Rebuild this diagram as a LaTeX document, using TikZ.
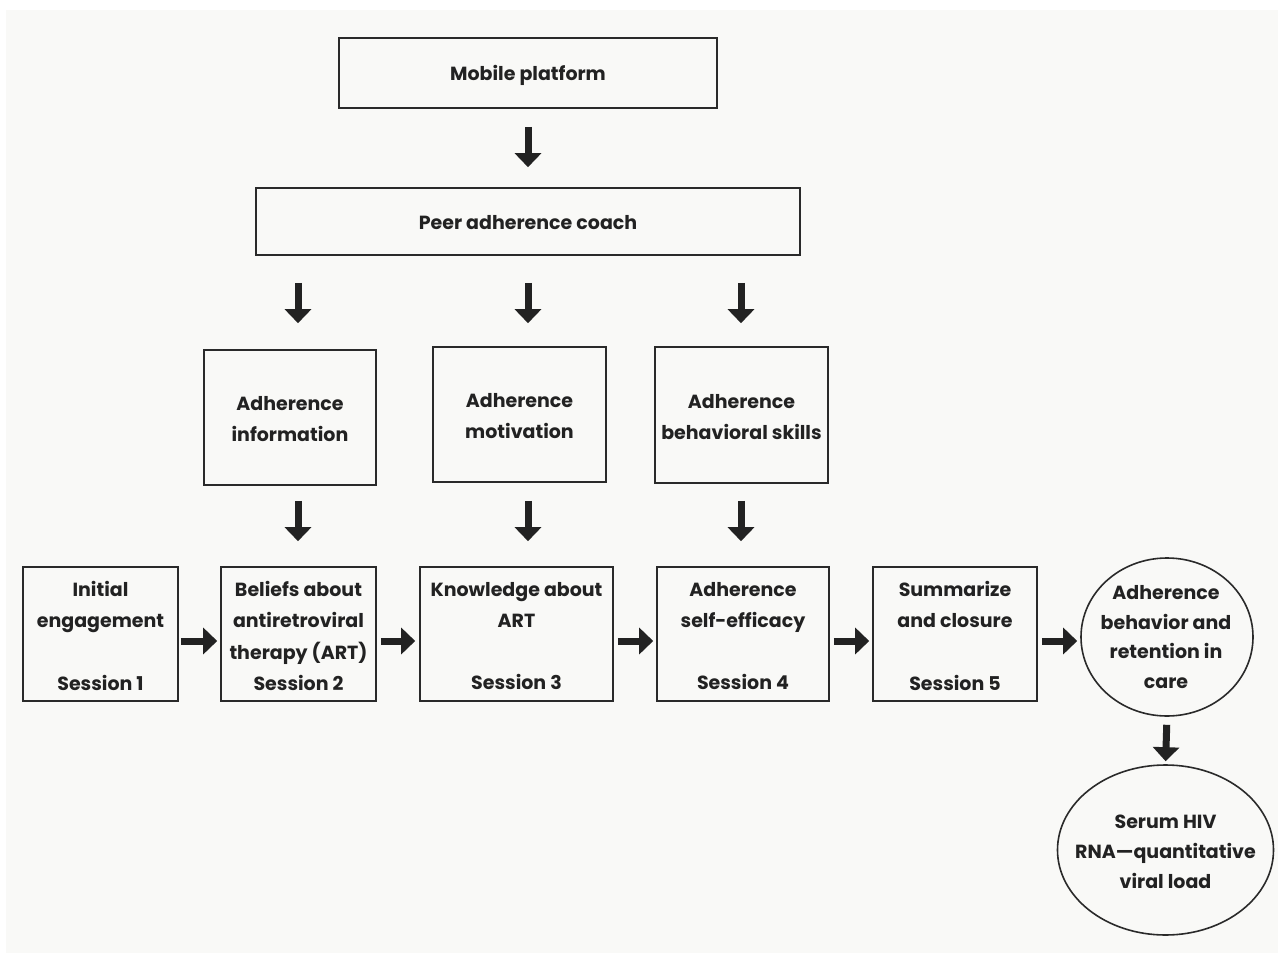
\documentclass[tikz,border=0pt]{standalone}
\usepackage{fontspec}
\setmainfont{Poppins}
\usetikzlibrary{arrows.meta,shapes.geometric}
\definecolor{bgc}{HTML}{F9F9F7}
\definecolor{linec}{HTML}{2A2A2A}
\definecolor{txt}{HTML}{222222}
\begin{document}
\begin{tikzpicture}[x=1pt,y=-1pt,
  box/.style={draw=linec, line width=1.6pt, inner sep=0pt, align=center, text=txt,
    font=\fontsize{19}{31.3}\selectfont\bfseries},
  ell/.style={ellipse, draw=linec, line width=1.6pt, inner sep=0pt},
  lbl/.style={inner sep=0pt, align=center, text=txt, font=\fontsize{19}{29.8}\selectfont\bfseries},
  arr/.style={line width=7pt, draw=txt, -{Triangle[width=26pt,length=14pt]}}
]
\useasboundingbox (0,0) rectangle (1278,953);
\fill[white] (0,0) rectangle (1278,953);
\fill[bgc] (6,10) rectangle (1278,953);

% top
\node[box, minimum width=378pt, minimum height=70pt] (mob) at (528,73) {};
\node[lbl] (mobt) at (528,75) {Mobile platform};
\node[box, minimum width=544pt, minimum height=67pt] (peer) at (528,221.5) {};
\node[lbl] (peert) at (528,223) {Peer adherence coach};

% middle
\node[box, minimum width=172pt, minimum height=135pt] (info) at (290,417.5) {};
\node[box, minimum width=173pt, minimum height=135pt] (moti) at (519.5,414.5) {};
\node[box, minimum width=173pt, minimum height=136pt] (skil) at (741.5,415) {};
\node[lbl, font=\fontsize{19}{31}\selectfont\bfseries] (infot) at (290,419.5) {Adherence\\information};
\node[lbl, font=\fontsize{19}{31}\selectfont\bfseries] (motit) at (519.5,416.5) {Adherence\\motivation};
\node[lbl, font=\fontsize{19}{31}\selectfont\bfseries] (skilt) at (741.5,417) {Adherence\\behavioral skills};

% bottom row
\node[box, minimum width=155pt, minimum height=134pt] (s1) at (100.5,634) {};
\node[box, minimum width=155pt, minimum height=134pt] (s2) at (298.5,634) {};
\node[box, minimum width=193pt, minimum height=134pt] (s3) at (516.5,634) {};
\node[box, minimum width=172pt, minimum height=134pt] (s4) at (743,634) {};
\node[box, minimum width=164pt, minimum height=134pt] (s5) at (955,634) {};
\begin{scope}[every node/.style={lbl, font=\fontsize{19}{31.3}\selectfont\bfseries}]
\node (s1t) at (100.5,636) {Initial\\engagement\\\mbox{}\\Session 1};
\node (s2t) at (298.5,636) {Beliefs about\\antiretroviral\\therapy (ART)\\Session 2};
\node (s3t) at (516.5,636) {Knowledge about\\ART\\\mbox{}\\Session 3};
\node (s4t) at (743,636) {Adherence\\self-efficacy\\\mbox{}\\Session 4};
\node (s5t) at (955,636) {Summarize\\and closure\\\mbox{}\\Session 5};
\end{scope}

\node[ell, minimum width=172pt, minimum height=158pt] (circ) at (1167,637) {};
\node[lbl] (circt) at (1166,637) {Adherence\\behavior and\\retention in\\care};
\node[ell, minimum width=216pt, minimum height=170pt] (vl) at (1165.5,850) {};
\node[lbl] (vlt) at (1165.5,852) {Serum HIV\\RNA—quantitative\\viral load};

% arrow columns
\coordinate (c1) at (298,0);
\coordinate (c2) at (528,0);
\coordinate (c3) at (741,0);

\draw[arr, shorten <=18pt, shorten >=20pt] (mob.south) -- (peer.north);
\draw[arr, shorten <=27pt, shorten >=26pt] (peer.south -| c1) -- (info.north -| c1);
\draw[arr, shorten <=27pt, shorten >=23pt] (peer.south -| c2) -- (moti.north -| c2);
\draw[arr, shorten <=27pt, shorten >=23pt] (peer.south -| c3) -- (skil.north -| c3);
\draw[arr, shorten <=15pt, shorten >=25pt] (info.south -| c1) -- (s2.north -| c1);
\draw[arr, shorten <=18pt, shorten >=25pt] (moti.south -| c2) -- (s3.north -| c2);
\draw[arr, shorten <=17pt, shorten >=25pt] (skil.south -| c3) -- (s4.north -| c3);

\draw[arr, shorten <=2pt, shorten >=3pt] ([yshift=-7pt]s1.east) -- ([yshift=-7pt]s2.west);
\draw[arr, shorten <=4pt, shorten >=4pt] ([yshift=-7pt]s2.east) -- ([yshift=-7pt]s3.west);
\draw[arr, shorten <=4pt, shorten >=3pt] ([yshift=-7pt]s3.east) -- ([yshift=-7pt]s4.west);
\draw[arr, shorten <=4pt, shorten >=3pt] ([yshift=-7pt]s4.east) -- ([yshift=-7pt]s5.west);
\draw[arr, shorten <=4pt, shorten >=3pt] ([yshift=-7pt]s5.east) -- ([yshift=-7pt]s5.east -| circ.west);
\draw[arr, shorten <=8pt, shorten >=3pt] (circ.south) -- (vl.north);
\end{tikzpicture}
\end{document}
